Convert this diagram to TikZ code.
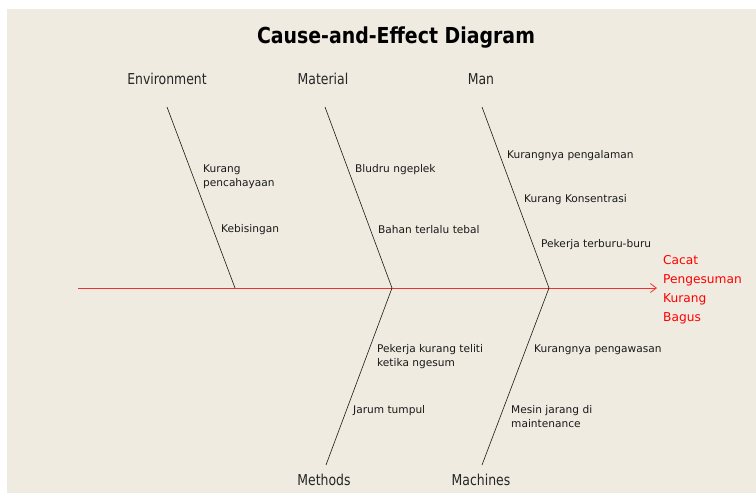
\documentclass[tikz,border=0pt]{standalone}
\usepackage{fontspec}
\setmainfont{DejaVu Sans}
\newfontfamily\headfont[FakeStretch=0.83]{DejaVu Sans}
\newfontfamily\titlefont[FakeStretch=0.86]{DejaVu Sans}
\usetikzlibrary{arrows.meta,positioning}
\definecolor{paper}{RGB}{239,235,225}
\definecolor{spinered}{RGB}{238,50,50}
\tikzset{
	bone/.style={draw=black!90,line width=0.6pt},
	spine/.style={draw=spinered,line width=0.8pt,-{Straight Barb[length=6pt,width=9pt]}},
	cat/.style={font=\headfont\fontsize{15}{16}\selectfont,text=black!85},
	cause/.style={anchor=west,align=left,inner sep=0pt,font=\fontsize{10.6}{14}\selectfont,text=black!90,yshift=-1.5pt},
	effect/.style={anchor=west,align=left,inner sep=0pt,text=red,font=\fontsize{12.2}{19}\selectfont}
}

\begin{document}
\begin{tikzpicture}[x=1pt,y=-1pt]
	\fill[white] (0,0) rectangle (756,493);
	\fill[paper] (7,9) rectangle (756,493);
	\useasboundingbox (0,0) rectangle (756,493);
	\node[font=\titlefont\bfseries\fontsize{22}{24}\selectfont] (title) at (396,38) {Cause-and-Effect Diagram};
	% categories
	\node[cat] (env) at (167,79) {Environment};
	\node[cat] (mat) at (323,79) {Material};
	\node[cat] (man) at (481,79) {Man};
	\node[cat] (met) at (324,480) {Methods};
	\node[cat] (mac) at (481,480) {Machines};
	% spine
	\coordinate (tail) at (78,288);
	\coordinate (j1) at (235,288);
	\coordinate (j2) at (392,288);
	\coordinate (j3) at (549,288);
	\node[effect] (eff) at (663,290) {Cacat\\Pengesuman\\Kurang\\Bagus};
	\draw[spine] (tail) -- ([xshift=-6pt]eff.west |- j3);
	% bones
	\coordinate (envtop) at (167,107);
	\coordinate (mattop) at (325,107);
	\coordinate (mantop) at (482,107);
	\coordinate (metbot) at (326,465);
	\coordinate (macbot) at (482,465);
	\draw[bone] (envtop) -- (j1);
	\draw[bone] (mattop) -- (j2) -- (metbot);
	\draw[bone] (mantop) -- (j3) -- (macbot);
	% causes
	\node[cause] (c1) at (203,175) {Kurang\\pencahayaan};
	\node[cause] (c2) at (221,228) {Kebisingan};
	\node[cause] (c3) at (355,168) {Bludru ngeplek};
	\node[cause] (c4) at (378,228) {Bahan terlalu tebal};
	\node[cause] (c5) at (507,154) {Kurangnya pengalaman};
	\node[cause] (c6) at (524,198) {Kurang Konsentrasi};
	\node[cause] (c7) at (541,243) {Pekerja terburu-buru};
	\node[cause] (c8) at (377,355) {Pekerja kurang teliti\\ketika ngesum};
	\node[cause] (c9) at (353,409) {Jarum tumpul};
	\node[cause] (c10) at (534,348) {Kurangnya pengawasan};
	\node[cause] (c11) at (511,415) {Mesin jarang di\\maintenance};
\end{tikzpicture}
\end{document}
